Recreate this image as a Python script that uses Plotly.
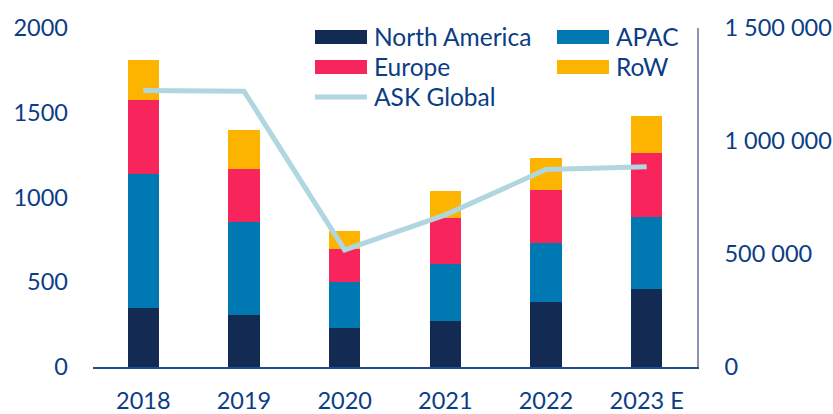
import plotly.graph_objects as go

years = ["2018", "2019", "2020", "2021", "2022", "2023 E"]
north_america = [348, 305, 231, 272, 384, 458]
apac = [792, 549, 268, 335, 350, 426]
europe = [434, 314, 198, 274, 312, 378]
row = [235, 233, 106, 157, 190, 219]
ask_global = [1224000, 1220000, 518000, 673000, 874000, 886000]

series_names = ["North America", "APAC", "Europe", "RoW"]
series_values = [north_america, apac, europe, row]
colors = ["#132A53", "#0079B3", "#F8255C", "#FCB400"]
line_color = "#B0D6E0"
text_color = "#0B3D85"
FONT = "Lato"
FS = 23.5
FS_LEG = 24.5

W, H = 833, 414
L, R, T, B = 93, 136, 28, 46.5
pw, ph = W - L - R, H - T - B

fig = go.Figure()
for name, vals, c in zip(series_names, series_values, colors):
    fig.add_trace(go.Bar(x=years, y=vals, name=name, marker_color=c,
                         marker_line_width=0, showlegend=False))
fig.add_trace(go.Scatter(x=years, y=ask_global, name="ASK Global", mode="lines",
                         line=dict(color=line_color, width=5), yaxis="y2",
                         showlegend=False))

def px2paper(x, y):
    return (x - L) / pw, (H - B - y) / ph

# manual legend (two columns, wide swatches)
legend_items = [
    ("North America", colors[0], 315, 37, "bar"),
    ("APAC", colors[1], 557, 37, "bar"),
    ("Europe", colors[2], 315, 67, "bar"),
    ("RoW", colors[3], 557, 67, "bar"),
    ("ASK Global", line_color, 315, 97, "line"),
]
shapes = []
annotations = []
for label, c, x0, yc, kind in legend_items:
    if kind == "bar":
        a = px2paper(x0, yc - 7)
        b = px2paper(x0 + 52, yc + 7)
        shapes.append(dict(type="rect", xref="paper", yref="paper",
                           x0=a[0], x1=b[0], y0=b[1], y1=a[1],
                           fillcolor=c, line_width=0))
    else:
        a = px2paper(x0, yc)
        b = px2paper(x0 + 52, yc)
        shapes.append(dict(type="line", xref="paper", yref="paper",
                           x0=a[0], x1=b[0], y0=a[1], y1=b[1],
                           line=dict(color=c, width=5)))
    t = px2paper(x0 + 57, yc)
    annotations.append(dict(x=t[0], y=t[1], xref="paper", yref="paper",
                            text=label, showarrow=False, xanchor="left",
                            yanchor="middle",
                            font=dict(family=FONT, size=FS_LEG, color=text_color)))

fig.update_layout(
    width=W, height=H,
    margin=dict(l=L, r=R, t=T, b=B, pad=0, autoexpand=False),
    barmode="stack", bargap=0.69,
    plot_bgcolor="white", paper_bgcolor="white",
    font=dict(family=FONT, size=FS, color=text_color),
    xaxis=dict(showgrid=False, showline=True, linecolor="#1F4E8C", linewidth=2,
               ticks="", tickfont=dict(size=FS, color=text_color),
               ticklabelstandoff=12, automargin=False),
    yaxis=dict(range=[0, 2000], tickvals=[0, 500, 1000, 1500, 2000],
               showgrid=False, zeroline=False, showline=False, ticks="",
               ticklabelstandoff=24, automargin=False,
               tickfont=dict(size=FS, color=text_color)),
    yaxis2=dict(range=[0, 1500000], overlaying="y", side="right",
                tickvals=[0, 500000, 1000000, 1500000],
                ticktext=["0", "500 000", "1 000 000", "1 500 000"],
                showgrid=False, zeroline=False, showline=True,
                linecolor="#8C93AE", linewidth=1.5, ticks="",
                ticklabelstandoff=21, automargin=False,
                tickfont=dict(size=FS, color=text_color)),
    shapes=shapes, annotations=annotations, showlegend=False,
)

fig.write_html("out.html", config={"displayModeBar": False})
